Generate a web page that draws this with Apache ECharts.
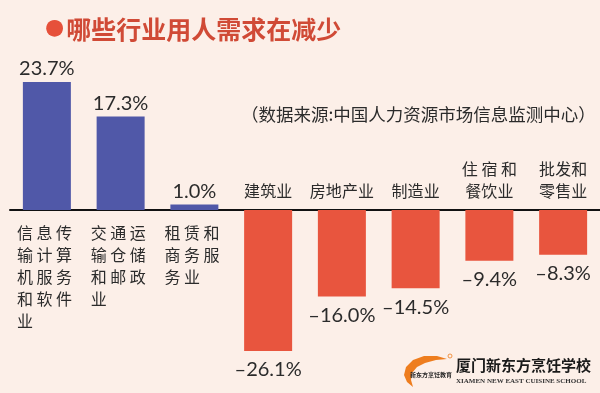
<!DOCTYPE html>
<html>
<head>
<meta charset="utf-8">
<script src="https://cdn.jsdelivr.net/npm/echarts@6/dist/echarts.min.js"></script>
<style>
  html, body { margin: 0; padding: 0; background: #fcefe8; }
  #chart { width: 600px; height: 393px; }
</style>
</head>
<body>
<div id="chart"></div>
<script>
// ---- data ----
const categories = ['信息传输计算机服务和软件业', '交通运输仓储和邮政业', '租赁和商务服务业', '建筑业', '房地产业', '制造业', '住宿和餐饮业', '批发和零售业'];
const categoryLines = [
  ['信 息 传', '输 计 算', '机 服 务', '和 软 件', '业'],
  ['交 通 运', '输 仓 储', '和 邮 政', '业'],
  ['租 赁 和', '商 务 服', '务 业'],
  ['建筑业'],
  ['房地产业'],
  ['制造业'],
  ['住 宿 和', '餐饮业'],
  ['批发和', '零售业']
];
const values = [23.7, 17.3, 1.0, -26.1, -16.0, -14.5, -9.4, -8.3];
const titleText = '哪些行业用人需求在减少';
const sourceText = '（数据来源:中国人力资源市场信息监测中心）';
const logoName = '厦门新东方烹饪学校';
const logoEnglish = 'XIAMEN NEW EAST CUISINE SCHOOL';
const logoSmall = '新东方烹饪教育';

const BLUE = '#5058a8';
const RED = '#e8553e';
const TEXT = '#2b2b2b';

function fmtValue(v) {
  return (v < 0 ? '–' : '') + Math.abs(v).toFixed(1) + '%';
}

const chart = echarts.init(document.getElementById('chart'), null, { renderer: 'canvas' });

const option = {
  backgroundColor: '#fcefe8',
  animation: false,
  title: [
    {
      left: 40, top: 12,
      text: '{dot|●}{t|' + titleText + '}',
      textStyle: {
        rich: {
          dot: { color: '#e6503a', fontSize: 22, fontFamily: 'DejaVu Sans', padding: [0, 2, 2, 0] },
          t: { color: '#d04a36', fontSize: 25, fontWeight: 'bold', fontFamily: 'Noto Sans CJK SC' }
        }
      }
    },
    {
      left: 236, top: 101,
      text: sourceText,
      textStyle: { color: TEXT, fontSize: 17.5, fontWeight: 'normal', fontFamily: 'Noto Sans CJK SC' }
    }
  ],
  grid: { left: 10, right: 0, top: 48, bottom: 21, containLabel: false },
  xAxis: {
    type: 'category',
    data: categories,
    axisLine: { show: true, onZero: true, lineStyle: { color: '#111', width: 2 } },
    axisTick: { show: false },
    axisLabel: { show: false },
    splitLine: { show: false }
  },
  yAxis: {
    type: 'value',
    min: -30, max: 30, interval: 10,
    show: false,
    splitLine: { show: false }
  },
  series: [
    {
      type: 'bar',
      barWidth: 48,
      barGap: '-100%',
      data: values.map(v => ({
        value: v,
        itemStyle: { color: v >= 0 ? BLUE : RED },
        label: {
          show: true,
          position: v >= 0 ? 'top' : 'bottom',
          distance: v >= 0 ? 3 : 9,
          formatter: p => fmtValue(p.value),
          color: TEXT,
          fontSize: 20,
          fontFamily: 'Lato'
        }
      }))
    },
    {
      type: 'bar',
      barWidth: 48,
      barGap: '-100%',
      silent: true,
      itemStyle: { color: 'rgba(0,0,0,0)' },
      data: values.map((v, i) => ({
        value: 0,
        label: {
          show: true,
          position: v >= 0 ? 'bottom' : 'top',
          distance: v >= 0 ? 12 : 8,
          align: v >= 0 ? 'left' : 'center',
          offset: v >= 0 ? [-30, 0] : [0, 0],
          formatter: () => categoryLines[i].join('\n'),
          color: TEXT,
          fontSize: 16,
          lineHeight: 22,
          fontFamily: 'Noto Sans CJK SC'
        }
      }))
    }
  ],
  graphic: [
    {
      type: 'polygon',
      shape: {
        points: [[447, 359], [437, 356], [424, 356], [413, 360], [406, 367], [404, 375], [407, 382], [413, 387],
                 [411, 380], [412, 373], [417, 367], [425, 363], [436, 360]]
      },
      style: { fill: '#ee7d1e' }
    },
    {
      type: 'text', left: 410, top: 372,
      style: { text: logoSmall, font: 'bold 6px "Noto Sans CJK SC"', fill: '#222' }
    },
    {
      type: 'circle', shape: { cx: 450, cy: 356, r: 2 },
      style: { fill: 'none', stroke: '#ee7d1e', lineWidth: 0.8 }
    },
    {
      type: 'text', left: 456, top: 358,
      style: { text: logoName, font: 'bold 15px "Noto Sans CJK SC"', fill: '#1a1a1a' }
    },
    {
      type: 'text', left: 456, top: 378,
      style: { text: logoEnglish, font: 'bold 7px "Liberation Serif"', fill: '#333' }
    }
  ]
};

chart.setOption(option);
</script>
</body>
</html>
